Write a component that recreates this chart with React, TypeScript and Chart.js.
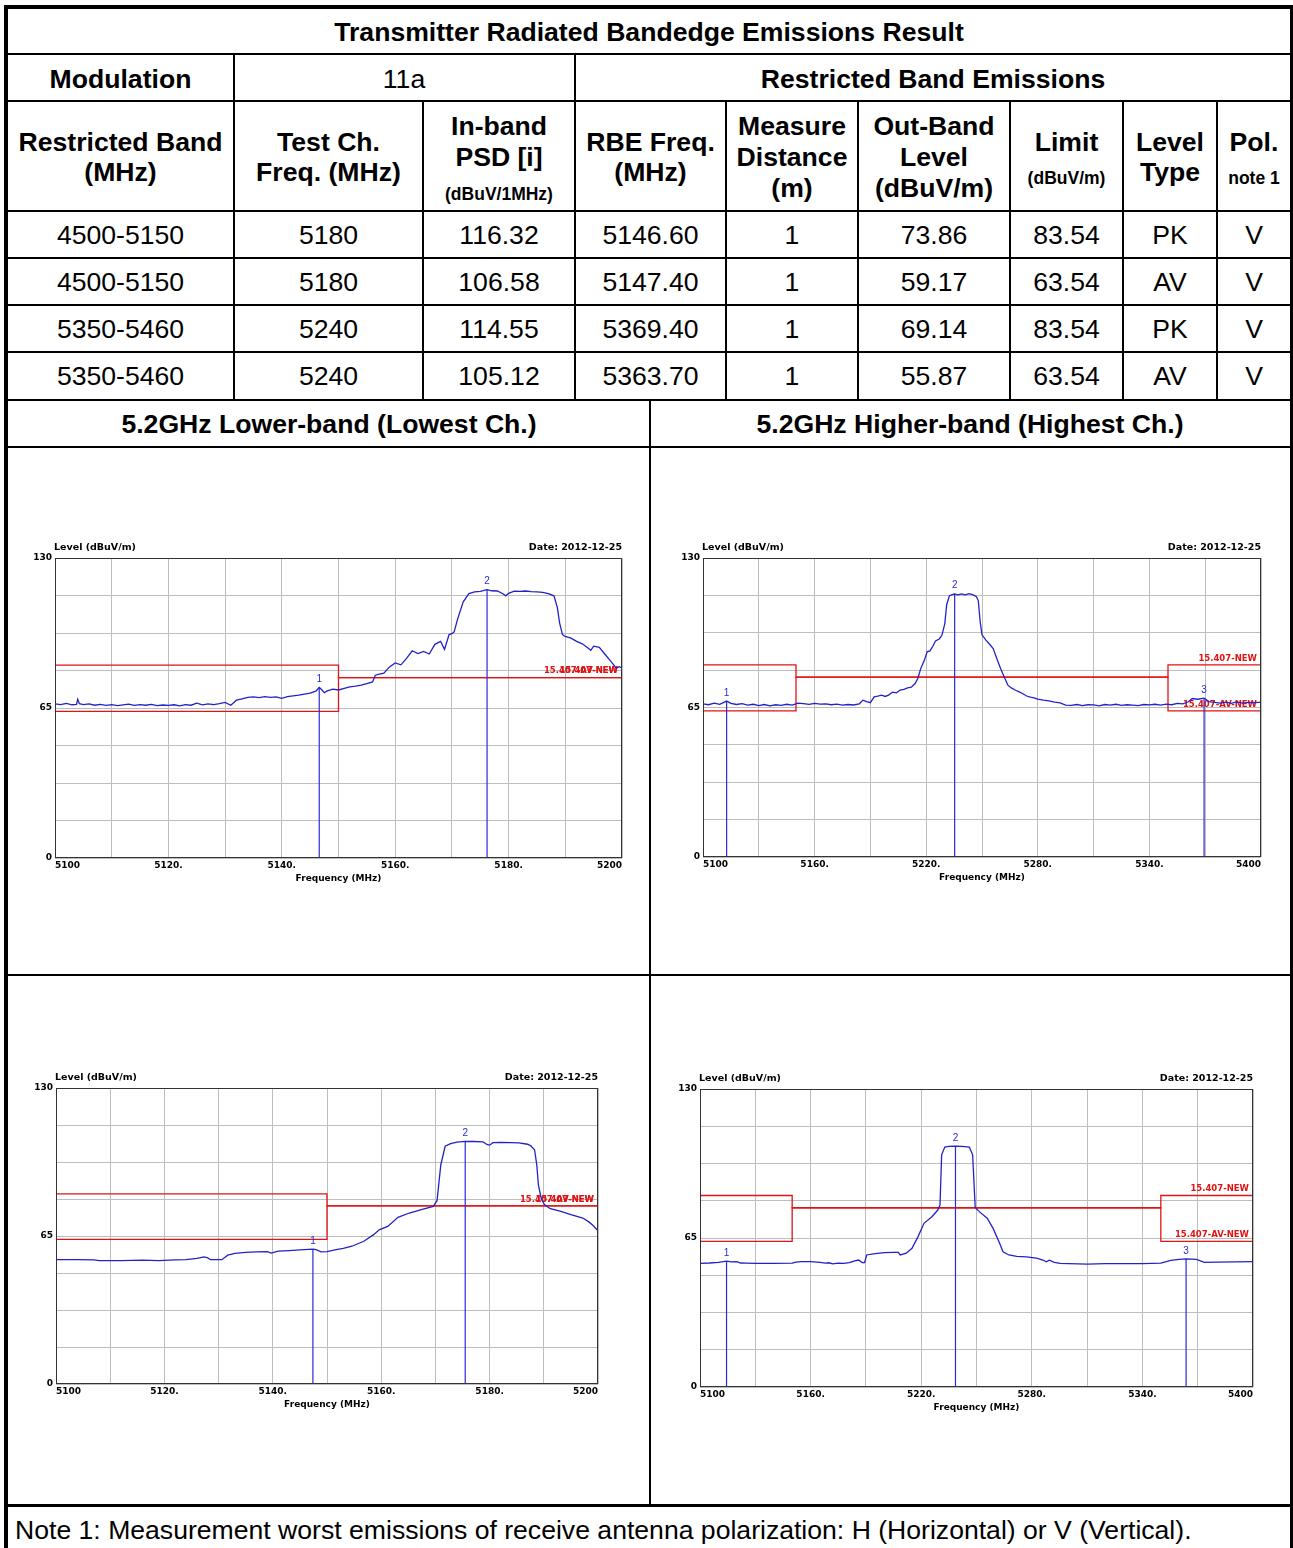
import React, { useEffect, useRef } from "react";
import { Chart, registerables } from "chart.js";

Chart.register(...registerables);

const FONT_T = '"Liberation Sans", Arial, sans-serif';
const FONT_C = '"DejaVu Sans", sans-serif';
const TRACE = "#2222c8";
const MARK = "#2a2ad6";
const RED = "#e01414";
const GRID = "#bdbdbd";
const BIG = 26.6;
const SMALL = 17.5;

// ---- table data ----
const bands = ["4500-5150", "4500-5150", "5350-5460", "5350-5460"];
const testFreqs = ["5180", "5180", "5240", "5240"];
const psdValues = ["116.32", "106.58", "114.55", "105.12"];
const rbeFreqs = ["5146.60", "5147.40", "5369.40", "5363.70"];
const distances = ["1", "1", "1", "1"];
const outBandLevels = ["73.86", "59.17", "69.14", "55.87"];
const limitValues = ["83.54", "63.54", "83.54", "63.54"];
const levelTypes = ["PK", "AV", "PK", "AV"];
const pols = ["V", "V", "V", "V"];

// ---- chart axis data ----
const yMin = 0;
const yMax = 130;
const yStep = 16.25;
const yLabelled = [0, 65, 130];

// ---- limit lines ----
const lowLimFreq = [5100, 5150, 5150, 5200];
const lowPkLim = [83.54, 83.54, 78.2, 78.2];
const lowAvLim = [63.54, 63.54, 78.2, 78.2];
const highLimFreq = [5100, 5150, 5150, 5350, 5350, 5400];
const highPkLim = [83.54, 83.54, 78.2, 78.2, 83.54, 83.54];
const highAvLim = [63.54, 63.54, 78.2, 78.2, 63.54, 63.54];

// ---- markers ----
const tlMarkFreq = [5146.6, 5176.2];
const tlMarkLevel = [73.86, 116.32];
const trMarkFreq = [5112.7, 5235.3, 5369.4];
const trMarkLevel = [67.8, 114.55, 69.14];
const blMarkFreq = [5147.4, 5175.5];
const blMarkLevel = [59.17, 106.58];
const brMarkFreq = [5114.4, 5238.6, 5363.7];
const brMarkLevel = [54.9, 105.12, 55.87];

// ---- traces [freq MHz, level dBuV/m] ----
const tlTrace: [number, number][] = [
  [5100, 66.8], [5101, 66.5], [5102, 67.0], [5103, 66.4], [5103.8, 66.6], [5104, 68.8], [5104.3, 66.9],
  [5105, 66.5], [5106, 66.8], [5107, 66.2], [5108, 66.6], [5109, 66.1], [5110, 66.5], [5111, 66.0],
  [5112, 66.4], [5113, 66.7], [5114, 66.1], [5115, 66.5], [5116, 66.2], [5117, 66.6], [5118, 66.0],
  [5119, 66.3], [5120, 66.1], [5121, 66.4], [5122, 65.9], [5123, 66.5], [5124, 66.2], [5125, 67.1],
  [5126, 66.4], [5127, 66.8], [5128, 66.5], [5129, 66.9], [5130, 67.4], [5131, 66.2], [5131.5, 67.3],
  [5132, 68.4], [5133, 69.0], [5134, 69.6], [5135, 69.8], [5136, 69.5], [5137, 69.9], [5138, 69.6],
  [5139, 69.8], [5140, 69.2], [5141, 69.9], [5142, 70.3], [5143, 70.6], [5144, 71.0], [5145, 71.4],
  [5146, 72.3], [5146.6, 73.9], [5147, 73.0], [5147.5, 71.6], [5148, 72.4], [5149, 73.2], [5150, 72.8],
  [5151, 73.5], [5152, 74.2], [5153, 74.5], [5154, 74.9], [5155, 75.6], [5156, 76.3], [5156.5, 79.2],
  [5157, 79.6], [5158, 80.1], [5159, 82.8], [5160, 84.5], [5161, 83.7], [5162, 86.5], [5163, 89.8],
  [5164, 88.6], [5165, 89.5], [5166, 88.4], [5167, 92.6], [5168, 93.9], [5168.7, 90.4], [5169.5, 96.8],
  [5170, 97.2], [5170.4, 98.0], [5171, 103.5], [5172, 111.0], [5173, 114.6], [5174, 115.3], [5175, 115.5],
  [5176.2, 116.3], [5177, 115.8], [5178, 115.7], [5179, 114.5], [5179.5, 113.6], [5180, 114.7], [5181, 115.6],
  [5182, 115.5], [5183, 115.7], [5184, 115.4], [5185, 115.3], [5186, 115.1], [5187, 114.6], [5188, 113.6],
  [5188.6, 108.5], [5189, 101.8], [5189.5, 96.8], [5190, 96.0], [5191, 95.3], [5192, 93.9], [5193, 92.8],
  [5194, 91.0], [5194.5, 90.0], [5195, 91.8], [5196, 91.3], [5197, 88.3], [5198, 85.3], [5199, 82.3],
  [5199.5, 82.9], [5200, 82.4],
];

const trTrace: [number, number][] = [
  [5100, 66.6], [5103, 66.2], [5106, 66.9], [5109, 66.4], [5112.7, 67.8], [5115, 66.8], [5118, 66.3],
  [5121, 66.7], [5124, 66.0], [5127, 66.4], [5130, 65.8], [5133, 66.3], [5136, 65.7], [5139, 66.2],
  [5142, 65.9], [5145, 66.4], [5148, 66.0], [5151, 66.9], [5154, 66.7], [5157, 66.4], [5160, 66.8],
  [5163, 66.5], [5166, 66.6], [5169, 66.2], [5172, 66.5], [5175, 66.0], [5178, 66.3], [5181, 66.1],
  [5184, 66.6], [5186, 68.2], [5188, 67.6], [5190, 67.1], [5192, 69.6], [5194, 69.9], [5196, 70.4],
  [5198, 69.8], [5200, 70.5], [5202, 71.7], [5204, 71.4], [5206, 72.6], [5208, 72.9], [5210, 73.5],
  [5212, 73.8], [5214, 75.4], [5215.5, 77.6], [5217, 81.8], [5219, 85.5], [5220.5, 89.2], [5222, 89.6],
  [5223.5, 91.5], [5225, 93.9], [5227, 94.8], [5228.5, 96.5], [5230, 101.5], [5231, 109.7], [5232.5, 113.6],
  [5234, 114.1], [5235.3, 114.4], [5237, 114.0], [5239, 114.4], [5241, 114.0], [5243, 114.5], [5245, 114.1],
  [5247, 113.2], [5248, 111.5], [5249, 102.4], [5250, 96.6], [5252, 94.4], [5254, 92.6], [5256, 90.6],
  [5258, 86.2], [5260, 82.0], [5262, 78.2], [5264, 74.6], [5266, 73.4], [5268, 72.5], [5270, 71.8],
  [5272, 71.0], [5274, 70.0], [5276, 69.5], [5278, 69.2], [5280, 68.6], [5283, 68.2], [5286, 67.9],
  [5289, 67.3], [5292, 67.0], [5295, 66.0], [5298, 65.9], [5301, 66.3], [5304, 65.8], [5307, 66.2],
  [5310, 66.1], [5313, 65.7], [5316, 66.3], [5319, 66.0], [5322, 66.4], [5325, 65.9], [5328, 66.2],
  [5331, 66.0], [5334, 65.8], [5337, 66.3], [5340, 66.1], [5343, 66.4], [5346, 66.0], [5349, 66.5],
  [5352, 66.2], [5355, 66.8], [5358, 66.6], [5361, 67.5], [5363, 68.9], [5366, 68.6], [5369.4, 69.1],
  [5372, 67.6], [5375, 67.2], [5378, 66.9], [5381, 67.3], [5384, 66.8], [5387, 67.4], [5390, 66.9],
  [5393, 67.2], [5396, 67.0], [5400, 67.3],
];

const blTrace: [number, number][] = [
  [5100, 54.6], [5104, 54.6], [5107, 54.5], [5108, 54.2], [5112, 54.2], [5116, 54.4], [5119, 54.2],
  [5120, 54.3], [5122, 54.5], [5124, 54.6], [5126, 55.2], [5127.3, 55.8], [5128, 55.4], [5128.5, 54.6],
  [5130.6, 54.6], [5131.7, 56.6], [5133, 57.4], [5135, 57.8], [5137, 58.0], [5139, 58.1], [5139.7, 57.5],
  [5141, 58.4], [5143, 58.6], [5145, 58.9], [5147.4, 59.2], [5148, 59.0], [5148.9, 58.0], [5150, 58.1],
  [5151.7, 59.0], [5153, 59.6], [5154.6, 60.5], [5156.8, 62.7], [5158.6, 65.6], [5159.7, 67.8],
  [5161.2, 69.2], [5163.1, 73.2], [5165.2, 75.1], [5167.4, 76.6], [5169.6, 78.0], [5170.3, 80.5],
  [5171, 96.3], [5171.8, 104.4], [5172.8, 105.6], [5174, 106.2], [5175.5, 106.6], [5177, 106.5],
  [5178.8, 106.3], [5179.5, 105.2], [5180, 104.9], [5180.6, 106.0], [5182, 106.1], [5184, 106.0],
  [5185.4, 105.9], [5187, 105.3], [5187.6, 104.6], [5188.3, 102.9], [5188.7, 96.3], [5189, 87.6],
  [5189.5, 81.7], [5190.1, 78.8], [5191.2, 77.0], [5193, 75.9], [5195, 74.4], [5197.2, 72.9],
  [5198.3, 71.2], [5199, 69.8], [5200, 67.3],
];

const brTrace: [number, number][] = [
  [5100, 53.9], [5105, 54.1], [5110, 54.4], [5114.4, 54.9], [5117, 54.6], [5120, 54.7], [5122, 54.1],
  [5125, 54.0], [5130, 53.9], [5140, 53.9], [5150, 54.0], [5152, 54.5], [5155, 54.7], [5160, 54.7],
  [5165, 54.4], [5168, 54.0], [5170, 54.2], [5172, 53.7], [5175, 54.0], [5178, 53.9], [5181, 54.3],
  [5184, 55.0], [5186, 55.4], [5188, 54.3], [5189.3, 54.3], [5190.4, 57.6], [5195, 58.2], [5200, 58.6],
  [5205, 58.7], [5207.6, 58.7], [5208.6, 57.6], [5211.9, 58.4], [5215, 60.5], [5218.3, 65.6],
  [5221.5, 71.4], [5225.8, 74.3], [5229, 77.2], [5230.2, 79.4], [5231.1, 101.3], [5232.8, 104.7],
  [5235, 105.0], [5238.6, 105.1], [5242, 105.0], [5246.1, 104.7], [5247.9, 101.3], [5249.3, 78.3],
  [5251.5, 76.5], [5255.8, 73.6], [5259, 69.2], [5262.2, 63.4], [5264.4, 59.0], [5267.6, 57.6],
  [5271.8, 57.0], [5277, 56.8], [5282.6, 56.2], [5286, 55.4], [5287.9, 54.6], [5289.5, 55.3],
  [5292.2, 54.4], [5295.4, 53.9], [5300, 53.8], [5305, 53.7], [5310, 53.6], [5320, 53.8], [5330, 53.8],
  [5340, 53.8], [5350, 54.0], [5355.4, 55.2], [5360, 55.7], [5363.7, 55.9], [5369.3, 55.7],
  [5373.6, 54.4], [5380, 54.5], [5390, 54.6], [5400, 54.7],
];

type SpecProps = {
  left: number;
  top: number;
  width: number;
  height: number;
  trace: [number, number][];
  markFreq: number[];
  markLevel: number[];
  limFreq: number[];
  pk: number[];
  av: number[];
  xMin: number;
  xMax: number;
  xStep: number;
};

function Spectrum(p: SpecProps) {
  const ref = useRef<HTMLCanvasElement>(null);
  useEffect(() => {
    const canvas = ref.current;
    if (!canvas) return;
    const pkLast = p.pk[p.pk.length - 1];
    const avLast = p.av[p.av.length - 1];
    const decor = {
      id: "decor",
      beforeDatasetsDraw(chart: any) {
        const { ctx, chartArea: a, scales } = chart;
        ctx.save();
        ctx.font = `bold 8.5px ${FONT_C}`;
        ctx.fillStyle = RED;
        ctx.textAlign = "right";
        ctx.textBaseline = "bottom";
        ctx.fillText("15.407-NEW", a.right - 4, scales.y.getPixelForValue(pkLast) - 2);
        ctx.fillText("15.407-AV-NEW", a.right - 4, scales.y.getPixelForValue(avLast) - 2);
        ctx.restore();
      },
      afterDatasetsDraw(chart: any) {
        const { ctx, chartArea: a, scales } = chart;
        ctx.save();
        ctx.strokeStyle = "#333";
        ctx.lineWidth = 1;
        ctx.strokeRect(a.left + 0.5, a.top + 0.5, a.right - a.left - 1, a.bottom - a.top - 1);
        ctx.font = `10px ${FONT_T}`;
        ctx.fillStyle = MARK;
        ctx.textAlign = "center";
        ctx.textBaseline = "middle";
        p.markFreq.forEach((f, i) => {
          ctx.fillText(String(i + 1), scales.x.getPixelForValue(f), scales.y.getPixelForValue(p.markLevel[i]) - 8);
        });
        ctx.font = `bold 9.5px ${FONT_C}`;
        ctx.fillStyle = "#000";
        ctx.textAlign = "left";
        ctx.fillText("Level (dBuV/m)", a.left - 1, a.top - 10);
        ctx.textAlign = "right";
        ctx.fillText("Date: 2012-12-25", a.right, a.top - 10);
        ctx.restore();
      },
    };
    const datasets: any[] = [
      {
        label: "Trace",
        data: p.trace.map(([x, y]) => ({ x, y })),
        borderColor: TRACE,
        borderWidth: 1.3,
        pointRadius: 0,
        order: 1,
      },
      ...p.markFreq.map((f, i) => ({
        label: "Marker " + (i + 1),
        data: [
          { x: f, y: 0 },
          { x: f, y: p.markLevel[i] },
        ],
        borderColor: MARK,
        borderWidth: 1.2,
        pointRadius: 0,
        order: 2,
      })),
      {
        label: "15.407-NEW",
        data: p.limFreq.map((x, i) => ({ x, y: p.pk[i] })),
        borderColor: RED,
        borderWidth: 1.3,
        pointRadius: 0,
        order: 3,
      },
      {
        label: "15.407-AV-NEW",
        data: p.limFreq.map((x, i) => ({ x, y: p.av[i] })),
        borderColor: RED,
        borderWidth: 1.3,
        pointRadius: 0,
        order: 3,
      },
    ];
    const tickFont = { family: FONT_C, size: 9, weight: "bold" as const };
    const chart = new Chart(canvas, {
      type: "line",
      data: { datasets },
      options: {
        animation: false,
        responsive: false,
        events: [],
        layout: { padding: { top: 20, right: 8, left: 0, bottom: 0 } },
        plugins: { legend: { display: false }, tooltip: { enabled: false } },
        elements: { line: { tension: 0 } },
        scales: {
          x: {
            type: "linear",
            min: p.xMin,
            max: p.xMax,
            border: { display: false },
            grid: { color: GRID, lineWidth: 1, drawTicks: false },
            ticks: {
              stepSize: p.xStep,
              autoSkip: false,
              maxRotation: 0,
              align: "inner",
              padding: 2,
              color: "#000",
              font: tickFont,
              callback: (v: any) => {
                const n = Number(v);
                const k = Math.round((n - p.xMin) / p.xStep);
                if (k % 2 !== 0) return "";
                if (n === p.xMin || n === p.xMax) return String(n);
                return n + ".";
              },
            },
            title: {
              display: true,
              text: "Frequency (MHz)",
              color: "#000",
              font: tickFont,
              padding: { top: 0, bottom: 4 },
            },
            afterFit: (s: any) => {
              s.height = 30;
            },
          },
          y: {
            type: "linear",
            min: yMin,
            max: yMax,
            border: { display: false },
            grid: { color: GRID, lineWidth: 1, drawTicks: false },
            ticks: {
              stepSize: yStep,
              padding: 3,
              color: "#000",
              font: tickFont,
              callback: (v: any) => {
                const n = Math.round(Number(v) * 100) / 100;
                return yLabelled.includes(n) ? String(n) : "";
              },
            },
            afterFit: (s: any) => {
              s.width = 30;
            },
          },
        },
      },
      plugins: [decor],
    });
    return () => chart.destroy();
  }, []);
  return (
    <canvas
      ref={ref}
      width={p.width}
      height={p.height}
      style={{ position: "absolute", left: p.left, top: p.top, width: p.width, height: p.height }}
    />
  );
}

function T(props: { x: number; y: number; s?: number; b?: boolean; left?: boolean; children: React.ReactNode }) {
  const { x, y, s = BIG, b = false, left = false, children } = props;
  return (
    <div
      style={{
        position: "absolute",
        left: x,
        top: y,
        transform: left ? "translate(0,-50%)" : "translate(-50%,-50%)",
        fontSize: s,
        fontWeight: b ? 700 : 400,
        lineHeight: 1,
        whiteSpace: "nowrap",
        fontFamily: FONT_T,
        color: "#000",
      }}
    >
      {children}
    </div>
  );
}

function R(props: { x: number; y: number; w: number; h: number }) {
  return (
    <div
      style={{ position: "absolute", left: props.x, top: props.y, width: props.w, height: props.h, background: "#000" }}
    />
  );
}

const colCenters = [120.5, 328.5, 499, 650.5, 792, 934, 1066.5, 1170, 1254];
const rowCenters = [235, 282, 329, 376];

export default function App() {
  const hLines = [53, 100, 210, 257, 304, 351, 399, 446, 974];
  const vLinesData = [422, 725, 857, 1009, 1122, 1216];
  const cols = [bands, testFreqs, psdValues, rbeFreqs, distances, outBandLevels, limitValues, levelTypes, pols];
  return (
    <div
      style={{
        position: "absolute",
        left: 0,
        top: 0,
        width: 1293,
        height: 1548,
        overflow: "hidden",
        background: "#fff",
      }}
    >
      {/* outer border */}
      <R x={4} y={5} w={1289} h={4} />
      <R x={4} y={5} w={4} h={1543} />
      <R x={1290} y={5} w={3} h={1543} />
      {hLines.map((y) => (
        <R key={"h" + y} x={8} y={y} w={1282} h={2} />
      ))}
      <R x={8} y={1504} w={1282} h={3} />
      <R x={233} y={53} w={2} h={347} />
      <R x={574} y={53} w={2} h={347} />
      {vLinesData.map((x) => (
        <R key={"v" + x} x={x} y={100} w={2} h={300} />
      ))}
      <R x={649} y={399} w={2} h={1106} />

      <T x={649} y={32} b>
        Transmitter Radiated Bandedge Emissions Result
      </T>
      <T x={120.5} y={79} b>
        Modulation
      </T>
      <T x={404} y={79}>
        11a
      </T>
      <T x={933} y={79} b>
        Restricted Band Emissions
      </T>

      <T x={colCenters[0]} y={142} b>Restricted Band</T>
      <T x={colCenters[0]} y={172} b>(MHz)</T>
      <T x={colCenters[1]} y={142} b>Test Ch.</T>
      <T x={colCenters[1]} y={172} b>Freq. (MHz)</T>
      <T x={colCenters[2]} y={126} b>In-band</T>
      <T x={colCenters[2]} y={157} b>PSD [i]</T>
      <T x={colCenters[2]} y={195} s={SMALL} b>(dBuV/1MHz)</T>
      <T x={colCenters[3]} y={142} b>RBE Freq.</T>
      <T x={colCenters[3]} y={172} b>(MHz)</T>
      <T x={colCenters[4]} y={126} b>Measure</T>
      <T x={colCenters[4]} y={157} b>Distance</T>
      <T x={colCenters[4]} y={188} b>(m)</T>
      <T x={colCenters[5]} y={126} b>Out-Band</T>
      <T x={colCenters[5]} y={157} b>Level</T>
      <T x={colCenters[5]} y={188} b>(dBuV/m)</T>
      <T x={colCenters[6]} y={142} b>Limit</T>
      <T x={colCenters[6]} y={179} s={SMALL} b>(dBuV/m)</T>
      <T x={colCenters[7]} y={142} b>Level</T>
      <T x={colCenters[7]} y={172} b>Type</T>
      <T x={colCenters[8]} y={142} b>Pol.</T>
      <T x={colCenters[8]} y={179} s={SMALL} b>note 1</T>

      {cols.map((col, ci) =>
        col.map((v, ri) => (
          <T key={ci + "-" + ri} x={colCenters[ci]} y={rowCenters[ri]}>
            {v}
          </T>
        ))
      )}

      <T x={329} y={424} b>
        5.2GHz Lower-band (Lowest Ch.)
      </T>
      <T x={970} y={424} b>
        5.2GHz Higher-band (Highest Ch.)
      </T>

      <Spectrum
        left={25}
        top={538}
        width={605}
        height={350}
        trace={tlTrace}
        markFreq={tlMarkFreq}
        markLevel={tlMarkLevel}
        limFreq={lowLimFreq}
        pk={lowPkLim}
        av={lowAvLim}
        xMin={5100}
        xMax={5200}
        xStep={10}
      />
      <Spectrum
        left={673}
        top={538}
        width={596}
        height={349}
        trace={trTrace}
        markFreq={trMarkFreq}
        markLevel={trMarkLevel}
        limFreq={highLimFreq}
        pk={highPkLim}
        av={highAvLim}
        xMin={5100}
        xMax={5400}
        xStep={30}
      />
      <Spectrum
        left={26}
        top={1068}
        width={580}
        height={346}
        trace={blTrace}
        markFreq={blMarkFreq}
        markLevel={blMarkLevel}
        limFreq={lowLimFreq}
        pk={lowPkLim}
        av={lowAvLim}
        xMin={5100}
        xMax={5200}
        xStep={10}
      />
      <Spectrum
        left={670}
        top={1069}
        width={591}
        height={348}
        trace={brTrace}
        markFreq={brMarkFreq}
        markLevel={brMarkLevel}
        limFreq={highLimFreq}
        pk={highPkLim}
        av={highAvLim}
        xMin={5100}
        xMax={5400}
        xStep={30}
      />

      <T x={15} y={1530} left>
        Note 1: Measurement worst emissions of receive antenna polarization: H (Horizontal) or V (Vertical).
      </T>
    </div>
  );
}
